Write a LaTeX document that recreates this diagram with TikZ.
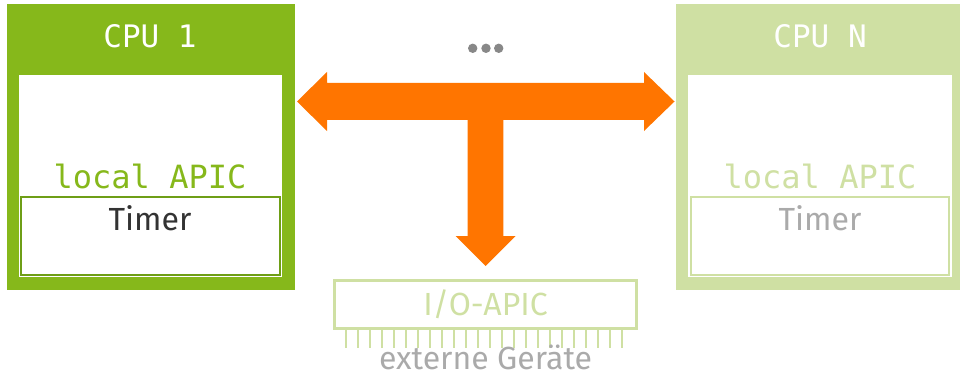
\documentclass[tikz,border=0pt]{standalone}
\usepackage{fontspec}
\setmainfont{Fira Sans}
\newfontfamily\codefont{DejaVu Sans Mono}
\definecolor{cpugreen}{HTML}{86B81B}
\definecolor{cpudark}{HTML}{6E9E16}
\definecolor{cpulight}{HTML}{CFE0A3}
\definecolor{busorange}{HTML}{FF7500}
\definecolor{textdark}{HTML}{333333}
\definecolor{textgray}{HTML}{AAAAAA}
\definecolor{dotgray}{HTML}{888888}
\begin{document}
\begin{tikzpicture}[x=1pt,y=-1pt,
  cpubox/.style={inner sep=0pt, anchor=north west},
  mono/.style={font=\codefont\fontsize{32}{32}\selectfont, anchor=base, inner sep=0pt},
  sans/.style={font=\fontsize{32}{32}\selectfont, anchor=base, inner sep=0pt},
  pin/.style={draw=cpulight, line width=2.2pt}]
\useasboundingbox (0,0) rectangle (960,377);

% CPU 1 (active)
\node[cpubox, fill=cpugreen, minimum width=288pt, minimum height=286pt] (cpu1) at (7,4) {};
\node[cpubox, fill=white, minimum width=263pt, minimum height=202pt] (core1) at (19,75) {};
\draw[cpudark, line width=2.2pt] (21,197) rectangle (280,275);
\node[cpubox, minimum width=259pt, minimum height=78pt] (tbox1) at (21,197) {};
\node[mono, text=white, font=\codefont\fontsize{31}{31}\selectfont] (name1) at (150,48) {CPU 1};
\node[mono, text=cpugreen] (apic1) at (150,188) {local APIC};
\node[sans, text=textdark] (timer1) at (150,230) {Timer};

% CPU N (faded)
\node[cpubox, fill=cpulight, minimum width=288pt, minimum height=286pt] (cpuN) at (676,4) {};
\node[cpubox, fill=white, minimum width=264pt, minimum height=202pt] (coreN) at (688,75) {};
\draw[cpulight, line width=2.2pt] (691,197) rectangle (949,275);
\node[cpubox, minimum width=258pt, minimum height=78pt] (tboxN) at (691,197) {};
\node[mono, text=white, font=\codefont\fontsize{31}{31}\selectfont] (nameN) at (820,48) {CPU N};
\node[mono, text=cpulight] (apicN) at (820,188) {local APIC};
\node[sans, text=textgray] (timerN) at (820,230) {Timer};

% ellipsis between the CPUs
\foreach \x [count=\i] in {472.7,486,498.7}
  \fill[dotgray] (\x,48.3) circle (4.7) coordinate (dot\i);

% system bus: double arrow across, branch down to the I/O-APIC
\fill[busorange]
  (297,101.5) -- (327,72) -- (327,83) -- (644,83) -- (644,72) -- (674.5,101.5)
  -- (644,131) -- (644,120) -- (503.3,120) -- (503.3,236) -- (515.7,236)
  -- (485.7,266) -- (455.7,236) -- (467.7,236) -- (467.7,120) -- (327,120)
  -- (327,131) -- cycle;

% I/O-APIC with its pins
\draw[cpulight, line width=3pt] (334.5,280.5) rectangle (636.5,328.5);
\node[cpubox, minimum width=302pt, minimum height=48pt] (ioapic) at (334.5,280.5) {};
\node[sans, text=cpulight] (iolabel) at (485.5,315) {I/O-APIC};
\foreach \k in {0,...,23}
  \draw[pin] ({346+\k*12},330) -- ({346+\k*12},348);
\node[sans, text=textgray] (devices) at (485.5,369) {externe Geräte};
\end{tikzpicture}
\end{document}
